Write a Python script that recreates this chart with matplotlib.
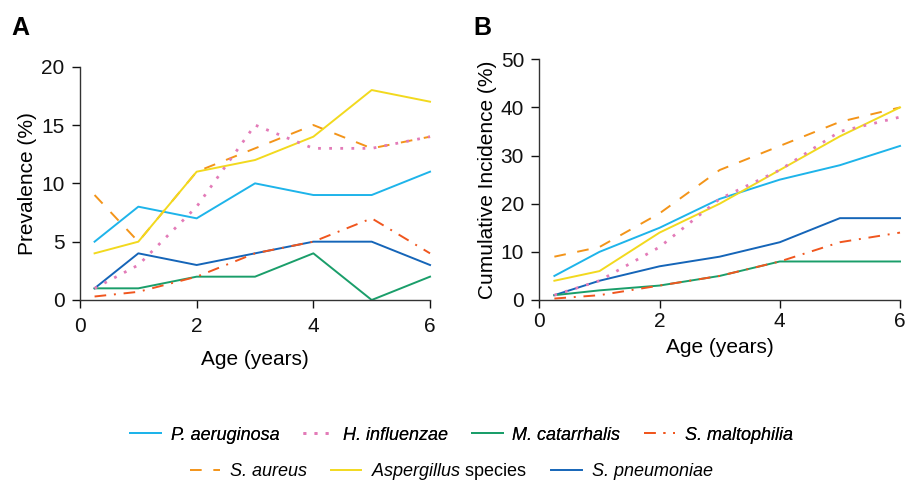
import matplotlib
matplotlib.use("Agg")
import matplotlib.pyplot as plt

plt.rcParams['font.family'] = ['Liberation Sans', 'DejaVu Sans']
plt.rcParams['mathtext.fontset'] = 'custom'
plt.rcParams['mathtext.it'] = 'Liberation Sans:italic'
plt.rcParams['mathtext.rm'] = 'Liberation Sans'

ages = [0.25, 1, 2, 3, 4, 5, 6]

species = ["P. aeruginosa", "H. influenzae", "M. catarrhalis", "S. maltophilia",
           "S. aureus", r"$\mathit{Aspergillus}$ species", "S. pneumoniae"]

# Panel A: prevalence (%)
prev_pa = [5, 8, 7, 10, 9, 9, 11]
prev_hi = [1, 3, 8, 15, 13, 13, 14]
prev_mc = [1, 1, 2, 2, 4, 0, 2]
prev_sm = [0.3, 0.7, 2, 4, 5, 7, 4]
prev_sa = [9, 5, 11, 13, 15, 13, 14]
prev_asp = [4, 5, 11, 12, 14, 18, 17]
prev_sp = [1, 4, 3, 4, 5, 5, 3]

# Panel B: cumulative incidence (%)
cum_pa = [5, 10, 15, 21, 25, 28, 32]
cum_hi = [1, 4, 11, 21, 27, 35, 38]
cum_mc = [1, 2, 3, 5, 8, 8, 8]
cum_sm = [0.3, 1, 3, 5, 8, 12, 14]
cum_sa = [9, 11, 18, 27, 32, 37, 40]
cum_asp = [4, 6, 14, 20, 27, 34, 40]
cum_sp = [1, 4, 7, 9, 12, 17, 17]

colors = ["#1EB4EA", "#E37BB8", "#1A9E6A", "#F0561E", "#F39419", "#F2D91E", "#1565B8"]
styles = ["-", (0, (1, 3)), "-", (0, (6, 4, 1, 4)), (0, (6, 6)), "-", "-"]

prev = [prev_pa, prev_hi, prev_mc, prev_sm, prev_sa, prev_asp, prev_sp]
cum = [cum_pa, cum_hi, cum_mc, cum_sm, cum_sa, cum_asp, cum_sp]

order = [0, 6, 2, 3, 4, 5, 1]

fig = plt.figure(figsize=(9.08, 4.82), dpi=100)
axA = fig.add_axes([0.0881, 0.3776, 0.3855, 0.484])
axB = fig.add_axes([0.594, 0.3776, 0.3972, 0.4994])

FS = 15

lines = {}
for ax, data in [(axA, prev), (axB, cum)]:
    for i in order:
        lw = 2.0 if i == 1 else 1.4
        ln, = ax.plot(ages, data[i], color=colors[i], linestyle=styles[i], lw=lw,
                      label=species[i], clip_on=False)
        if ax is axA:
            lines[i] = ln

for ax in (axA, axB):
    for s in ("top", "right"):
        ax.spines[s].set_visible(False)
    for s in ("left", "bottom"):
        ax.spines[s].set_linewidth(1.0)
        ax.spines[s].set_color("#333333")
    ax.set_xlim(0, 6)
    ax.set_xticks([0, 2, 4, 6])
    ax.tick_params(direction="out", length=6, width=1.0, labelsize=FS, colors="#111111", pad=5)

axA.tick_params(axis="x", pad=6)
axB.tick_params(axis="x", pad=3)
axA.set_xlabel("Age (years)", fontsize=FS, labelpad=10)
axB.set_xlabel("Age (years)", fontsize=FS, labelpad=5)

axA.set_ylim(0, 20)
axA.set_yticks([0, 5, 10, 15, 20])
axA.set_ylabel("Prevalence (%)", fontsize=FS, labelpad=3)
axB.set_ylim(0, 50)
axB.set_yticks([0, 10, 20, 30, 40, 50])
axB.set_ylabel("Cumulative Incidence (%)", fontsize=FS, labelpad=3)

fig.text(0.013, 0.942, "A", fontsize=18, fontweight="bold", ha="left", va="center")
fig.text(0.521, 0.942, "B", fontsize=18, fontweight="bold", ha="left", va="center")

row1 = [0, 1, 2, 3]
row2 = [4, 5, 6]
kw = dict(frameon=False, fontsize=13, handlelength=1.7, columnspacing=1.3,
          handletextpad=0.55, loc="center")
leg1 = fig.legend([lines[i] for i in row1], [species[i] for i in row1], ncol=4,
                  bbox_to_anchor=(0.508, 0.097), **kw)
leg2 = fig.legend([lines[i] for i in row2], [species[i] for i in row2], ncol=3,
                  bbox_to_anchor=(0.497, 0.021), **kw)
fig.add_artist(leg1)
for leg in (leg1, leg2):
    for t in leg.get_texts():
        if "$" not in t.get_text():
            t.set_fontstyle("italic")

fig.savefig("out.png", dpi=100)
